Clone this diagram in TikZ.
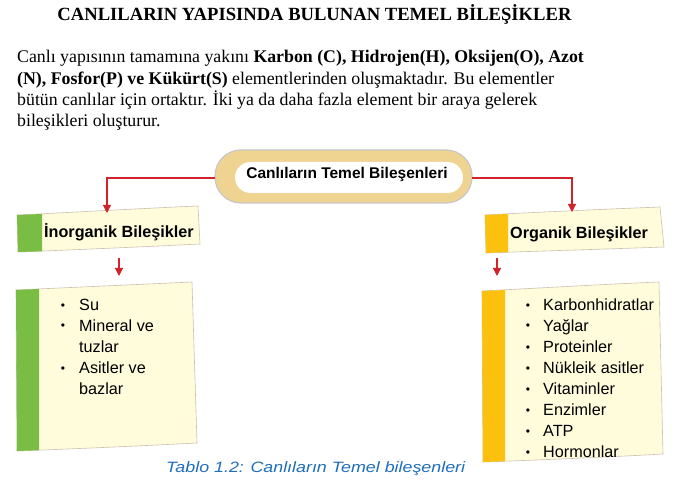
\documentclass[tikz,border=0pt]{standalone}
\usepackage{fontspec}
\setmainfont{Liberation Serif}
\newfontfamily\arialf{Liberation Sans}
\newfontfamily\capf[FakeStretch=1.19]{Liberation Sans}
\usetikzlibrary{arrows.meta}
\definecolor{redline}{HTML}{D2232A}
\definecolor{cream}{HTML}{FFFCDC}
\definecolor{paperedge}{HTML}{CDBFB0}
\definecolor{leafgreen}{HTML}{79BD44}
\definecolor{amber}{HTML}{FCC00F}
\definecolor{pilltan}{HTML}{EFD391}
\definecolor{capblue}{HTML}{1F6EB8}
\tikzset{
  paper/.style={fill=cream, draw=paperedge, line width=0.6pt},
  redarrow/.style={draw=redline, line width=1.1pt, -{Triangle[length=8pt,width=8pt]}},
  bodytext/.style={anchor=base west, inner sep=0pt, font=\fontsize{17.8}{21}\selectfont},
  hdrtext/.style={anchor=base west, inner sep=0pt, font=\arialf\bfseries\fontsize{16.2}{19}\selectfont},
  itemtext/.style={anchor=base west, inner sep=0pt, font=\arialf\fontsize{16.2}{19}\selectfont},
  bullet/.style={anchor=base, inner sep=0pt, font=\arialf\fontsize{12}{14}\selectfont},
}
\begin{document}
\begin{tikzpicture}[x=1pt,y=-1pt]
\useasboundingbox (0,0) rectangle (675,481);
\fill[white] (0,0) rectangle (675,481);

% title and paragraph
\node[anchor=base, inner sep=0pt, font=\bfseries\fontsize{18.6}{21}\selectfont] (title) at (314.5,21) {CANLILARIN YAPISINDA BULUNAN TEMEL BİLEŞİKLER};
\node[bodytext] (p1) at (17,63) {Canlı yapısının tamamına yakını \textbf{Karbon (C), Hidrojen(H), Oksijen(O), Azot}};
\node[bodytext] (p2) at (17,85) {\textbf{(N), Fosfor(P) ve Kükürt(S)} elementlerinden oluşmaktadır. Bu elementler};
\node[bodytext] (p3) at (17,106) {bütün canlılar için ortaktır. İki ya da daha fazla element bir araya gelerek};
\node[bodytext] (p4) at (17,127) {bileşikleri oluşturur.};

% central pill
\draw[fill=pilltan, draw=black!22, line width=1.2pt, rounded corners=26pt] (215,150) rectangle (472,203);
\fill[white, rounded corners=15.5pt] (235,162) rectangle (463,193);
\node[inner sep=0pt, minimum width=257pt, minimum height=53pt] (root) at (343.5,178) {};
\node[anchor=base, inner sep=0pt, font=\arialf\bfseries\fontsize{15.5}{18}\selectfont] (roottext) at (347,179) {Canlıların Temel Bileşenleri};

% left header
\path[paper] (17,215) .. controls (80,212) and (150,208) .. (198,206) -- (200,244) .. controls (140,247) and (70,250) .. (18,252) -- cycle;
\fill[leafgreen] (17,215) -- (42,214) -- (42,251.3) -- (18,252) -- cycle;
\node[hdrtext] (inorg) at (44,238) {İnorganik Bileşikler};
\coordinate (inorgtop) at (107,213);

% right header
\path[paper] (485,215) .. controls (540,212) and (610,209) .. (660,207) -- (664,247) .. controls (610,249) and (540,251) .. (486,253) -- cycle;
\fill[amber] (485,215) -- (508,214) -- (508,252.2) -- (486,253) -- cycle;
\node[hdrtext] (org) at (510,239) {Organik Bileşikler};
\coordinate (orgtop) at (572,212);

% connectors from root
\draw[redarrow] (root.west) -| (inorgtop);
\draw[redarrow] (root.east) -| (orgtop);

% lower arrows
\coordinate (la1) at (119,258);
\coordinate (la2) at (119,276);
\coordinate (ra1) at (497,258);
\coordinate (ra2) at (497,276);
\draw[redarrow] (la1) -- (la2);
\draw[redarrow] (ra1) -- (ra2);

% left body
\path[paper] (16,290) .. controls (80,287) and (150,284) .. (192,282) -- (197,443) .. controls (140,446) and (70,449) .. (17,451) -- cycle;
\fill[leafgreen] (16,290) -- (39,289) -- (39,450.2) -- (17,451) -- cycle;
\node[bullet] (lb1) at (63,309) {•};
\node[itemtext] (li1) at (79,310) {Su};
\node[bullet] (lb2) at (63,330) {•};
\node[itemtext] (li2) at (79,331) {Mineral ve};
\node[itemtext] (li2b) at (79,352) {tuzlar};
\node[bullet] (lb3) at (63,372) {•};
\node[itemtext] (li3) at (79,373) {Asitler ve};
\node[itemtext] (li3b) at (79,394) {bazlar};

% right body
\path[paper] (482,291) .. controls (540,288) and (610,284) .. (659,282) -- (663,454) .. controls (610,457) and (540,460) .. (483,462) -- cycle;
\fill[amber] (482,291) -- (505,290) -- (505,461.3) -- (483,462) -- cycle;
\foreach \t [count=\i] in {Karbonhidratlar,Yağlar,Proteinler,Nükleik asitler,Vitaminler,Enzimler,ATP,Hormonlar}{
  \node[bullet] (rb\i) at (528,{288+21*\i}) {•};
  \node[itemtext] (ri\i) at (543,{289+21*\i}) {\t};
}

% caption
\node[anchor=base west, inner sep=0pt, text=capblue, font=\capf\itshape\fontsize{15}{18}\selectfont] (caption) at (166,472) {Tablo 1.2: Canlıların Temel bileşenleri};
\end{tikzpicture}
\end{document}
